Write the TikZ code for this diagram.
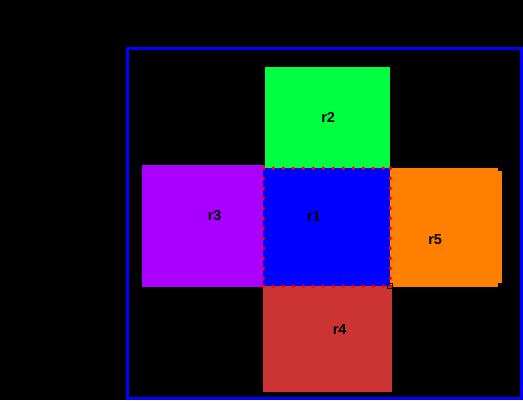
\documentclass[tikz,border=0pt]{standalone}
\usepackage{fontspec}
\setmainfont{Liberation Sans}
\definecolor{cgreen}{RGB}{0,255,64}
\definecolor{cpurple}{RGB}{170,0,255}
\definecolor{cblue}{RGB}{0,0,255}
\definecolor{corange}{RGB}{255,128,0}
\definecolor{cred}{RGB}{204,51,51}
\definecolor{cdot}{RGB}{255,0,0}
\tikzset{
  lbl/.style={font=\fontsize{14.5}{15}\selectfont\bfseries, text=black, inner sep=0pt, anchor=center},
  reddot/.style={fill=cdot, draw=none}
}
\begin{document}
\begin{tikzpicture}[x=1pt,y=-1pt]
\useasboundingbox (0,0) rectangle (523,400);
\fill[black] (0,0) rectangle (523,400);
% frame
\draw[cblue, line width=3pt] (127.5,48.5) rectangle (521.8,398.6);
% regions
\fill[cgreen] (265,67) rectangle (390,170);
\fill[cpurple] (142,165) rectangle (265,286.7);
\fill[corange] (390,167.7) rectangle (498,286.7);
\fill[corange] (390,171) rectangle (502,282.7);
\fill[cred] (263,285) rectangle (392,391.7);
\fill[cblue] (263.3,168.3) rectangle (390.3,286.3);
% selection handle
\draw[black, line width=1pt] (387.8,283.5) rectangle (392.8,288.5);
% dotted border
\foreach \i in {0,...,12} {
  \fill[reddot] (263.3+10*\i,168.3) circle (1.9);
  \fill[reddot] (263.3+10*\i,286.3) circle (1.9);
}
\foreach \j in {0,...,11} {
  \fill[reddot] (263.3,168.3+10*\j) circle (1.9);
  \fill[reddot] (390.3,168.3+10*\j) circle (1.9);
}
\fill[reddot] (390.3,168.3) circle (1.9);
\fill[reddot] (390.3,286.3) circle (1.9);
\fill[reddot] (263.3,286.3) circle (1.9);
% labels
\node[lbl] (l1) at (313.8,216.3) {r1};
\node[lbl] (l2) at (328.2,117.3) {r2};
\node[lbl] (l3) at (214.7,215.6) {r3};
\node[lbl] (l5) at (435.2,239.3) {r5};
\node[lbl] (l4) at (339.7,329.7) {r4};
\end{tikzpicture}
\end{document}
